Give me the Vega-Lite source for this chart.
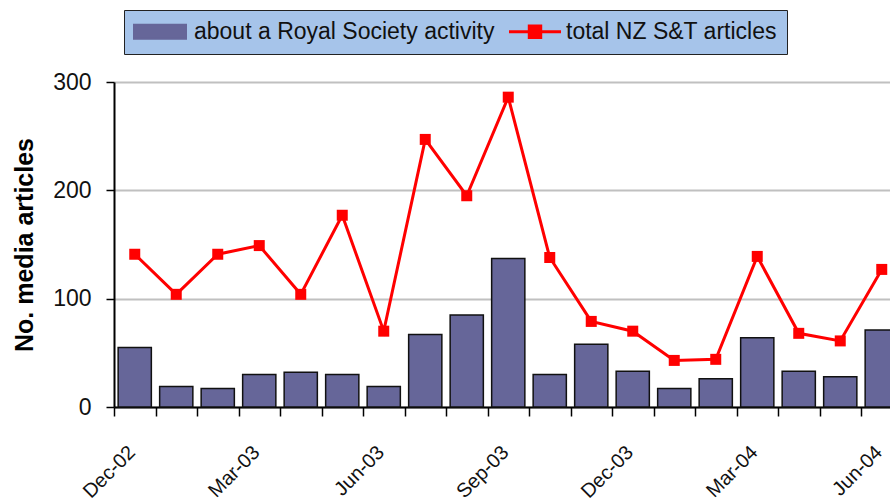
{
  "$schema": "https://vega.github.io/schema/vega-lite/v6.json",
  "autosize": "none",
  "width": 776,
  "height": 325,
  "padding": {"left": 114, "top": 82, "right": 0, "bottom": 96},
  "background": "#ffffff",
  "config": {
    "font": "Liberation Sans",
    "view": {"stroke": null},
    "axis": {"labelColor": "#111111", "titleColor": "#000000", "labelFont": "Liberation Sans", "titleFont": "Liberation Sans"}
  },
  "data": {
    "values": [
      {"month": "Dec-02", "series": "about a Royal Society activity", "value": 55},
      {"month": "Jan-03", "series": "about a Royal Society activity", "value": 19},
      {"month": "Feb-03", "series": "about a Royal Society activity", "value": 17},
      {"month": "Mar-03", "series": "about a Royal Society activity", "value": 30},
      {"month": "Apr-03", "series": "about a Royal Society activity", "value": 32},
      {"month": "May-03", "series": "about a Royal Society activity", "value": 30},
      {"month": "Jun-03", "series": "about a Royal Society activity", "value": 19},
      {"month": "Jul-03", "series": "about a Royal Society activity", "value": 67},
      {"month": "Aug-03", "series": "about a Royal Society activity", "value": 85},
      {"month": "Sep-03", "series": "about a Royal Society activity", "value": 137},
      {"month": "Oct-03", "series": "about a Royal Society activity", "value": 30},
      {"month": "Nov-03", "series": "about a Royal Society activity", "value": 58},
      {"month": "Dec-03", "series": "about a Royal Society activity", "value": 33},
      {"month": "Jan-04", "series": "about a Royal Society activity", "value": 17},
      {"month": "Feb-04", "series": "about a Royal Society activity", "value": 26},
      {"month": "Mar-04", "series": "about a Royal Society activity", "value": 64},
      {"month": "Apr-04", "series": "about a Royal Society activity", "value": 33},
      {"month": "May-04", "series": "about a Royal Society activity", "value": 28},
      {"month": "Jun-04", "series": "about a Royal Society activity", "value": 71},
      {"month": "Dec-02", "series": "total NZ S&T articles", "value": 141},
      {"month": "Jan-03", "series": "total NZ S&T articles", "value": 104},
      {"month": "Feb-03", "series": "total NZ S&T articles", "value": 141},
      {"month": "Mar-03", "series": "total NZ S&T articles", "value": 149},
      {"month": "Apr-03", "series": "total NZ S&T articles", "value": 104},
      {"month": "May-03", "series": "total NZ S&T articles", "value": 177},
      {"month": "Jun-03", "series": "total NZ S&T articles", "value": 70},
      {"month": "Jul-03", "series": "total NZ S&T articles", "value": 247},
      {"month": "Aug-03", "series": "total NZ S&T articles", "value": 195},
      {"month": "Sep-03", "series": "total NZ S&T articles", "value": 286},
      {"month": "Oct-03", "series": "total NZ S&T articles", "value": 138},
      {"month": "Nov-03", "series": "total NZ S&T articles", "value": 79},
      {"month": "Dec-03", "series": "total NZ S&T articles", "value": 70},
      {"month": "Jan-04", "series": "total NZ S&T articles", "value": 43},
      {"month": "Feb-04", "series": "total NZ S&T articles", "value": 44},
      {"month": "Mar-04", "series": "total NZ S&T articles", "value": 139},
      {"month": "Apr-04", "series": "total NZ S&T articles", "value": 68},
      {"month": "May-04", "series": "total NZ S&T articles", "value": 61},
      {"month": "Jun-04", "series": "total NZ S&T articles", "value": 127}
    ]
  },
  "encoding": {
    "x": {
      "field": "month", "type": "nominal", "sort": null,
      "scale": {"paddingInner": 0, "paddingOuter": 0, "range": [0, 788.5]},
      "axis": {
        "title": null, "tickBand": "extent", "tickSize": 9, "tickColor": "#000000", "tickWidth": 1.5,
        "domainColor": "#000000", "domainWidth": 2,
        "labelAngle": -45, "labelAlign": "right", "labelBaseline": "middle",
        "labelFontSize": 20, "labelPadding": 33, "labelOffset": -3,
        "labelExpr": "test(/^(Dec|Mar|Jun|Sep)/, datum.label) ? datum.label : ''",
        "grid": false, "labelOverlap": false
      }
    },
    "y": {
      "field": "value", "type": "quantitative",
      "scale": {"domain": [0, 300], "nice": false},
      "axis": {
        "values": [0, 100, 200, 300], "tickSize": 8, "tickColor": "#000000", "tickWidth": 1.5,
        "domainColor": "#000000", "domainWidth": 2,
        "labelFontSize": 23, "labelPadding": 15,
        "grid": true, "gridColor": "#c0c0c0", "gridWidth": 2,
        "title": "No. media articles", "titleFontSize": 25, "titleFontWeight": "bold", "titlePadding": 15
      }
    },
    "color": {
      "field": "series", "type": "nominal",
      "scale": {"domain": ["about a Royal Society activity", "total NZ S&T articles"], "range": ["#666699", "#ff0000"]},
      "legend": {
        "title": null, "orient": "none", "legendX": 10, "legendY": -72,
        "direction": "horizontal",
        "fillColor": "#a6c4ea", "strokeColor": "#222222",
        "padding": 10, "labelFontSize": 23, "labelFont": "Liberation Sans", "labelColor": "#111111",
        "labelLimit": 0, "columnPadding": 8, "symbolSize": 2704,
        "encode": {
          "symbols": {
            "update": {
              "x": {"value": 26},
              "size": {"value": 2704},
              "shape": {"signal": "datum.value === 'about a Royal Society activity' ? 'M-1,-0.27H1V0.27H-1Z' : 'M-1,0H1M-0.22,-0.22H0.22V0.22H-0.22Z'"},
              "fill": {"signal": "datum.value === 'about a Royal Society activity' ? '#666699' : '#ff0000'"},
              "stroke": {"signal": "datum.value === 'about a Royal Society activity' ? '#111111' : '#ff0000'"},
              "strokeWidth": {"signal": "datum.value === 'about a Royal Society activity' ? 2 : 3"},
              "opacity": {"value": 1},
              "fillOpacity": {"value": 1},
              "strokeOpacity": {"value": 1}
            }
          },
          "labels": {
            "update": {
              "x": {"signal": "datum.value === 'about a Royal Society activity' ? 60 : 57"}
            }
          }
        }
      }
    }
  },
  "layer": [
    {
      "transform": [{"filter": "datum.series === 'about a Royal Society activity'"}],
      "mark": {"type": "bar", "width": {"band": 0.8}, "stroke": "#111111", "strokeWidth": 1.5, "opacity": 1}
    },
    {
      "transform": [{"filter": "datum.series === 'total NZ S&T articles'"}],
      "mark": {"type": "line", "strokeWidth": 3, "point": {"shape": "square", "size": 121, "filled": true, "opacity": 1}}
    }
  ]
}
